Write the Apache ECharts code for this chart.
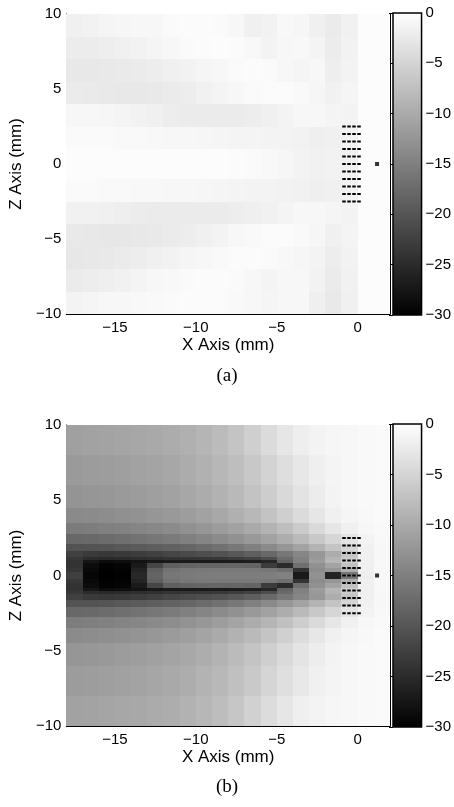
<!DOCTYPE html>
<html>
<head>
<meta charset="utf-8">
<script src="https://cdn.jsdelivr.net/npm/echarts@6/dist/echarts.min.js"></script>
<style>html,body{margin:0;padding:0;background:#fff}#chart{width:454px;height:807px}</style>
</head>
<body>
<div id="chart"></div>
<script>
// cell edges (mm) and field levels (dB)
var xEdges = [-18, -17, -16, -15, -14, -13, -12, -11, -10, -9, -8, -7, -6, -5, -4, -3, -2, -1, 0, 1, 2];

var zEdgesA = [10, 8.5, 7, 5.5, 4, 2.5, 1, -1, -2.5, -4, -5.5, -7, -8.5, -10];
var levelsA = [
  [-1.8, -1.5, -1.2, -1.1, -1.0, -0.9, -0.6, -0.5, -0.5, -0.6, -1.0, -1.8, -1.5, -0.8, -1.1, -1.8, -2.3, -1.6, -0.4, -0.3],
  [-2.2, -2.2, -2.0, -1.8, -1.5, -1.2, -0.9, -0.6, -0.5, -0.4, -0.5, -0.8, -1.4, -1.0, -0.8, -1.3, -2.2, -1.5, -0.4, -0.3],
  [-2.7, -2.7, -2.6, -2.5, -2.3, -2.1, -1.8, -1.5, -1.2, -0.9, -0.6, -0.5, -0.6, -0.9, -1.2, -1.0, -2.0, -1.4, -0.4, -0.3],
  [-2.3, -2.5, -2.6, -2.7, -2.7, -2.6, -2.4, -2.1, -1.7, -1.3, -0.9, -0.6, -0.5, -0.5, -0.7, -1.1, -1.7, -1.2, -0.4, -0.3],
  [-1.0, -1.0, -1.1, -1.3, -1.5, -1.8, -2.1, -2.3, -2.4, -2.4, -2.3, -2.1, -1.8, -1.4, -1.0, -0.9, -1.3, -1.4, -0.4, -0.3],
  [-0.6, -0.6, -0.6, -0.7, -0.7, -0.8, -0.9, -1.0, -1.1, -1.2, -1.3, -1.3, -1.4, -1.4, -1.5, -1.9, -1.8, -1.5, -0.4, -0.3],
  [-0.3, -0.3, -0.3, -0.3, -0.3, -0.3, -0.3, -0.3, -0.4, -0.4, -0.5, -0.6, -0.8, -1.1, -1.4, -1.7, -1.5, -1.6, -0.4, -0.3],
  [-0.6, -0.6, -0.7, -0.7, -0.8, -0.8, -0.9, -1.0, -1.1, -1.2, -1.3, -1.4, -1.4, -1.5, -1.6, -1.9, -1.8, -1.5, -0.4, -0.3],
  [-1.6, -1.7, -1.8, -2.0, -2.2, -2.3, -2.4, -2.4, -2.4, -2.3, -2.1, -1.9, -1.6, -1.3, -1.0, -0.9, -1.2, -1.4, -0.4, -0.3],
  [-2.6, -2.7, -2.8, -2.8, -2.7, -2.6, -2.4, -2.1, -1.8, -1.4, -1.0, -0.7, -0.5, -0.5, -0.7, -1.1, -1.8, -1.3, -0.4, -0.3],
  [-2.8, -2.7, -2.6, -2.4, -2.1, -1.8, -1.5, -1.2, -0.9, -0.7, -0.5, -0.5, -0.6, -0.8, -1.1, -1.4, -2.1, -1.5, -0.4, -0.3],
  [-2.3, -2.1, -1.9, -1.6, -1.3, -1.0, -0.8, -0.6, -0.5, -0.5, -0.6, -0.9, -1.3, -1.0, -0.9, -1.5, -2.3, -1.6, -0.4, -0.3],
  [-1.4, -1.2, -1.0, -0.9, -0.8, -0.7, -0.6, -0.5, -0.5, -0.5, -0.7, -1.0, -1.2, -0.9, -1.0, -1.9, -2.6, -1.8, -0.4, -0.3]
];

var zEdgesB = [10, 8, 6, 4.5, 3.5, 2.75, 2.1, 1.6, 1.25, 1.05, 0.85, 0.5, 0.2, -0.2, -0.5, -0.85, -1.05, -1.25, -1.6, -2.1, -2.75, -3.5, -4.5, -6, -8, -10];
var levelsB = [
  [-11.2, -11.0, -10.8, -10.6, -10.4, -10.1, -9.8, -9.3, -8.7, -8.0, -6.9, -5.6, -4.2, -3.0, -2.0, -1.4, -1.1, -0.9, -0.7, -0.6],
  [-11.9, -11.7, -11.5, -11.3, -11.0, -10.7, -10.3, -9.8, -9.2, -8.5, -7.6, -6.5, -5.2, -3.9, -2.8, -1.9, -1.3, -1.0, -0.7, -0.6],
  [-12.6, -12.4, -12.2, -11.9, -11.6, -11.3, -10.9, -10.4, -9.8, -9.1, -8.2, -7.1, -5.9, -4.5, -3.3, -2.2, -1.4, -1.0, -0.7, -0.6],
  [-13.8, -13.6, -13.4, -13.1, -12.8, -12.4, -12.0, -11.5, -10.9, -10.2, -9.3, -8.3, -7.1, -5.7, -4.2, -2.9, -1.8, -1.2, -0.8, -0.6],
  [-15.5, -15.3, -15.0, -14.7, -14.4, -14.0, -13.6, -13.0, -12.4, -11.7, -10.9, -10.0, -8.9, -7.6, -6.1, -4.5, -3.0, -1.8, -1.0, -0.7],
  [-17.8, -17.6, -17.3, -16.9, -16.5, -16.0, -15.5, -15.0, -14.4, -13.7, -12.9, -12.0, -10.9, -9.6, -8.1, -6.5, -4.8, -3.2, -1.4, -0.8],
  [-20.2, -20.2, -20.0, -19.7, -19.3, -18.9, -18.5, -18.0, -17.4, -16.7, -15.9, -15.0, -13.8, -12.4, -10.8, -9.0, -7.0, -4.8, -1.6, -0.9],
  [-22.5, -23.2, -23.4, -23.2, -22.8, -22.3, -21.8, -21.3, -20.8, -20.3, -19.6, -18.8, -17.6, -16.0, -14.2, -12.2, -9.8, -6.8, -1.8, -0.9],
  [-23.5, -24.8, -25.2, -25.0, -24.6, -24.3, -24.0, -23.8, -23.6, -23.4, -23.0, -22.4, -21.0, -17.5, -14.8, -12.0, -8.8, -6.0, -1.8, -0.9],
  [-24.0, -27.4, -28.6, -28.4, -27.8, -27.2, -27.0, -27.0, -27.0, -27.0, -26.8, -26.5, -25.5, -18.5, -14.8, -11.5, -8.5, -5.5, -1.8, -0.8],
  [-24.0, -28.6, -29.6, -29.4, -27.0, -21.8, -18.8, -18.2, -18.0, -18.0, -18.0, -18.2, -23.0, -25.0, -17.0, -13.0, -10.8, -7.2, -1.8, -0.8],
  [-23.5, -29.0, -29.9, -29.7, -25.9, -18.8, -16.5, -15.9, -15.8, -15.8, -15.8, -15.8, -16.0, -17.0, -24.0, -13.5, -12.4, -9.4, -1.8, -0.8],
  [-22.5, -29.3, -30.0, -29.8, -25.3, -18.2, -16.0, -15.6, -15.4, -15.3, -15.3, -15.3, -15.2, -14.8, -27.0, -13.0, -26.0, -16.0, -2.0, -0.8],
  [-23.5, -29.0, -29.9, -29.7, -25.9, -18.8, -16.5, -15.9, -15.8, -15.8, -15.8, -15.8, -16.0, -17.0, -24.0, -13.5, -12.4, -9.4, -1.8, -0.8],
  [-24.0, -28.6, -29.6, -29.4, -27.0, -21.8, -18.8, -18.2, -18.0, -18.0, -18.0, -18.2, -23.0, -25.0, -17.0, -13.0, -10.8, -7.2, -1.8, -0.8],
  [-24.0, -27.4, -28.6, -28.4, -27.8, -27.2, -27.0, -27.0, -27.0, -27.0, -26.8, -26.5, -25.5, -18.5, -14.8, -11.5, -8.5, -5.5, -1.8, -0.8],
  [-23.5, -24.8, -25.2, -25.0, -24.6, -24.3, -24.0, -23.8, -23.6, -23.4, -23.0, -22.4, -21.0, -17.5, -14.8, -12.0, -8.8, -6.0, -1.8, -0.9],
  [-22.5, -23.2, -23.4, -23.2, -22.8, -22.3, -21.8, -21.3, -20.8, -20.3, -19.6, -18.8, -17.6, -16.0, -14.2, -12.2, -9.8, -6.8, -1.8, -0.9],
  [-20.2, -20.2, -20.0, -19.7, -19.3, -18.9, -18.5, -18.0, -17.4, -16.7, -15.9, -15.0, -13.8, -12.4, -10.8, -9.0, -7.0, -4.8, -1.6, -0.9],
  [-17.8, -17.6, -17.3, -16.9, -16.5, -16.0, -15.5, -15.0, -14.4, -13.7, -12.9, -12.0, -10.9, -9.6, -8.1, -6.5, -4.8, -3.2, -1.4, -0.8],
  [-15.3, -15.1, -14.8, -14.5, -14.2, -13.8, -13.4, -12.8, -12.2, -11.5, -10.7, -9.8, -8.7, -7.4, -5.9, -4.4, -2.9, -1.8, -1.0, -0.7],
  [-13.6, -13.4, -13.2, -12.9, -12.6, -12.2, -11.8, -11.3, -10.7, -10.0, -9.1, -8.1, -6.9, -5.5, -4.1, -2.8, -1.8, -1.2, -0.8, -0.6],
  [-12.4, -12.2, -12.0, -11.7, -11.4, -11.1, -10.7, -10.2, -9.6, -8.9, -8.0, -6.9, -5.7, -4.4, -3.2, -2.1, -1.4, -1.0, -0.7, -0.6],
  [-11.7, -11.5, -11.3, -11.1, -10.8, -10.5, -10.1, -9.6, -9.0, -8.3, -7.4, -6.3, -5.0, -3.8, -2.7, -1.8, -1.3, -1.0, -0.7, -0.6],
  [-11.0, -10.8, -10.6, -10.4, -10.2, -9.9, -9.6, -9.1, -8.5, -7.8, -6.7, -5.4, -4.1, -2.9, -1.9, -1.4, -1.1, -0.9, -0.7, -0.6]
];

// array elements (dashed rows) and the single point
var elementZ = [2.5, 2, 1.5, 1, 0.5, 0, -0.5, -1, -1.5, -2, -2.5];
var elementX = [-0.95, 0.2];
var pointXZ = [1.2, 0];

var colorRange = [-30, 0];
var xTicks = [-15, -10, -5, 0];
var panelLabels = ['(a)', '(b)'];

var sans = 'Liberation Sans, Arial, sans-serif';

function minus(v) {
  return v < 0 ? '\u2212' + (-v) : '' + v;
}

function cells(zEdges, levels) {
  var out = [];
  for (var r = 0; r < levels.length; r++) {
    for (var c = 0; c < levels[r].length; c++) {
      out.push([xEdges[c], xEdges[c + 1], zEdges[r + 1], zEdges[r], levels[r][c]]);
    }
  }
  return out;
}

function drawCell(params, api) {
  var a = api.coord([api.value(0), api.value(3)]);
  var b = api.coord([api.value(1), api.value(2)]);
  var x = Math.round(a[0]), y = Math.round(a[1]);
  return {
    type: 'rect',
    shape: { x: x, y: y, width: Math.round(b[0]) - x, height: Math.round(b[1]) - y },
    style: { fill: api.visual('color') }
  };
}

function drawBar(params, api) {
  var a = api.coord([0, api.value(1)]);
  var b = api.coord([1, api.value(0)]);
  return {
    type: 'rect',
    shape: { x: a[0], y: a[1], width: b[0] - a[0], height: b[1] - a[1] },
    style: {
      fill: new echarts.graphic.LinearGradient(0, 0, 0, 1, [
        { offset: 0, color: '#ffffff' },
        { offset: 1, color: '#000000' }
      ]),
      stroke: '#000',
      lineWidth: 1.5
    }
  };
}

var panels = [
  { main: { left: 63, top: 14, width: 327, height: 300 }, bar: { left: 393, top: 13, width: 30, height: 302 },
    zEdges: zEdgesA, levels: levelsA, labelTop: 367 },
  { main: { left: 63, top: 425, width: 327, height: 301 }, bar: { left: 393, top: 424, width: 30, height: 303 },
    zEdges: zEdgesB, levels: levelsB, labelTop: 778 }
];

var grid = [], xAxis = [], yAxis = [], series = [], title = [], cellSeries = [];

panels.forEach(function (p, k) {
  var g = grid.length;
  grid.push(p.main, p.bar);
  var xi = xAxis.length, yi = yAxis.length;
  var line = { show: true, onZero: false, lineStyle: { color: '#000', width: 1 } };

  // x: minor ticks every 1 mm + labels, then major ticks, bottom and top
  xAxis.push({
    type: 'value', gridIndex: g, min: -18, max: 2, interval: 1, position: 'bottom',
    axisLine: line, axisTick: { inside: true, length: 2, lineStyle: { color: '#000' } },
    splitLine: { show: false },
    axisLabel: { margin: 6, color: '#000', fontFamily: sans, fontSize: 15,
      formatter: function (v) { return xTicks.indexOf(v) >= 0 ? minus(v) : ''; } },
    name: 'X Axis (mm)', nameLocation: 'middle', nameGap: 23,
    nameTextStyle: { color: '#000', fontFamily: sans, fontSize: 17 }
  });
  xAxis.push({
    type: 'value', gridIndex: g, min: -18, max: 2, position: 'bottom',
    axisLine: { show: false }, splitLine: { show: false }, axisLabel: { show: false },
    axisTick: { inside: true, length: 5, customValues: xTicks, lineStyle: { color: '#000' } }
  });
  xAxis.push({
    type: 'value', gridIndex: g, min: -18, max: 2, interval: 1, position: 'top',
    axisLine: line, splitLine: { show: false }, axisLabel: { show: false },
    axisTick: { inside: true, length: 2, lineStyle: { color: '#000' } }
  });
  xAxis.push({
    type: 'value', gridIndex: g, min: -18, max: 2, position: 'top',
    axisLine: { show: false }, splitLine: { show: false }, axisLabel: { show: false },
    axisTick: { inside: true, length: 5, customValues: xTicks, lineStyle: { color: '#000' } }
  });
  xAxis.push({ type: 'value', gridIndex: g + 1, min: 0, max: 1, show: false });

  var yBase = {
    type: 'value', gridIndex: g, min: -10, max: 10, interval: 5,
    axisLine: line, splitLine: { show: false },
    axisTick: { inside: true, length: 5, lineStyle: { color: '#000' } },
    minorTick: { show: true, splitNumber: 5, length: 2, lineStyle: { color: '#000' } }
  };
  yAxis.push(Object.assign({}, yBase, {
    position: 'left',
    axisLabel: { margin: 5, color: '#000', fontFamily: sans, fontSize: 15, formatter: minus },
    name: 'Z Axis (mm)', nameLocation: 'middle', nameGap: 31, nameRotate: 90,
    nameTextStyle: { color: '#000', fontFamily: sans, fontSize: 17 }
  }));
  yAxis.push(Object.assign({}, yBase, { position: 'right', axisLabel: { show: false } }));
  yAxis.push({
    type: 'value', gridIndex: g + 1, min: -30, max: 0, interval: 5, position: 'right',
    axisLine: { show: false }, splitLine: { show: false },
    axisTick: { inside: true, length: 4, lineStyle: { color: '#000' } },
    axisLabel: { margin: 4, color: '#000', fontFamily: sans, fontSize: 15, formatter: minus }
  });

  cellSeries.push(series.length);
  series.push({
    type: 'custom', xAxisIndex: xi, yAxisIndex: yi, renderItem: drawCell,
    encode: { x: [0, 1], y: [2, 3] }, data: cells(p.zEdges, p.levels), silent: true, z: 1
  });
  elementZ.forEach(function (z) {
    series.push({
      type: 'line', xAxisIndex: xi, yAxisIndex: yi, symbol: 'none', silent: true, z: 3,
      lineStyle: { color: '#000', width: 2, type: [3.5, 1.5] },
      data: [[elementX[0], z], [elementX[1], z]]
    });
  });
  series.push({
    type: 'scatter', xAxisIndex: xi, yAxisIndex: yi, symbol: 'rect', symbolSize: 4,
    itemStyle: { color: '#000' }, silent: true, z: 3, data: [pointXZ]
  });
  series.push({
    type: 'custom', xAxisIndex: xi + 4, yAxisIndex: yi + 2, renderItem: drawBar,
    encode: { y: [0, 1] }, data: [colorRange], silent: true
  });

  title.push({
    text: panelLabels[k], left: 'center', top: p.labelTop, padding: 0,
    textStyle: { fontFamily: 'Liberation Serif, Times New Roman, serif', fontSize: 19, fontWeight: 'normal', color: '#000' }
  });
});

var chart = echarts.init(document.getElementById('chart'));
chart.setOption({
  animation: false,
  backgroundColor: '#fff',
  title: title,
  grid: grid,
  xAxis: xAxis,
  yAxis: yAxis,
  visualMap: {
    type: 'continuous', show: false, dimension: 4, seriesIndex: cellSeries,
    min: colorRange[0], max: colorRange[1],
    inRange: { color: ['#000000', '#ffffff'] }
  },
  series: series
});
</script>
</body>
</html>
